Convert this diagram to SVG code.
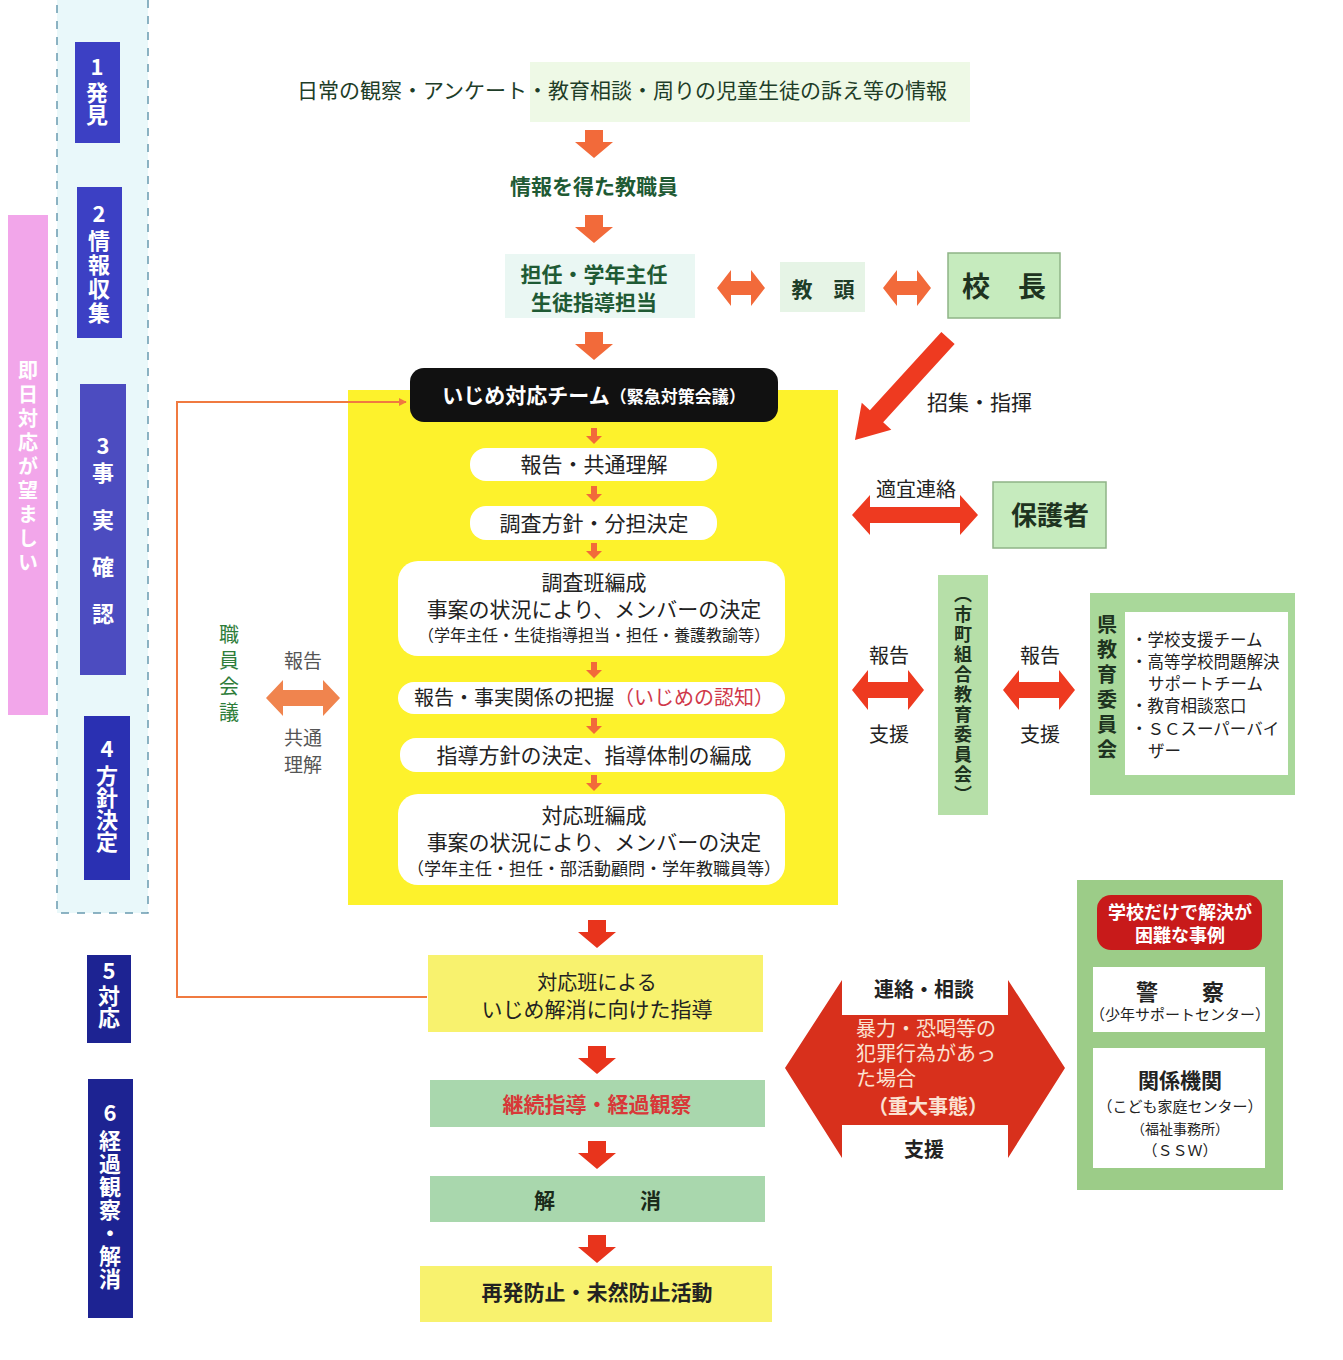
<svg xmlns="http://www.w3.org/2000/svg" width="1343" height="1360" viewBox="0 0 1343 1360">
<style>
text{font-family:"Noto Sans CJK JP","Noto Sans",sans-serif;}
.c{text-anchor:middle;}
.t{font-size:21px;fill:#222;}
.b{font-weight:bold;}
.g{fill:#1f5a34;}
.w{fill:#fff;}
.v{writing-mode:vertical-rl;}
.step{font-size:22px;font-weight:bold;fill:#fff;text-anchor:middle;}
.step.v{text-anchor:start;}
.wb{fill:#fff;}
.yl{fill:#f8f26e;}
.gr{fill:#a9d7ad;}
.lg{fill:#c6ebbe;stroke:#8fb487;stroke-width:1.5;}
</style>
<defs>
<path id="dn" d="M-9,0H9V12H19L0,28L-19,12H-9Z"/>
<path id="dnS" d="M-3,0H3V8H8L0,16L-8,8H-3Z"/>
<path id="dbl" d="M-24,0L-10,-18V-7H10V-18L24,0L10,18V7H-10V18Z"/>
<path id="dblL" d="M-63,0L-45,-20V-8H45V-20L63,0L45,20V8H-45V20Z"/>
<path id="dblM" d="M-36,0L-20,-20V-8H20V-20L36,0L20,20V8H-20V20Z"/>
<marker id="ah" viewBox="0 0 10 10" refX="9" refY="5" markerWidth="8" markerHeight="8" orient="auto" markerUnits="userSpaceOnUse"><path d="M0,0L10,5L0,10Z" fill="#f07a40"/></marker>
</defs>
<rect width="1343" height="1360" fill="#fff"/>

<!-- left stage column -->
<g id="stage-area">
<rect x="57" y="-5" width="91" height="918" fill="#e9f8fa" stroke="#6a9ab0" stroke-width="1.5" stroke-dasharray="8,8"/>
</g>
<g id="pink-note">
<rect x="8" y="215" width="40" height="500" fill="#f2a6ea"/>
<text class="v w b" x="28" y="360" style="font-size:20px;letter-spacing:4px">即日対応が望ましい</text>
</g>
<g id="step1">
<rect x="75" y="42" width="45" height="101" fill="#3c40c4"/>
<text class="step" x="97" y="75">1</text>
<text class="step v" x="97" y="82">発見</text>
</g>
<g id="step2">
<rect x="77" y="187" width="45" height="151" fill="#3c40c4"/>
<text class="step" x="99" y="222">2</text>
<text class="step v" x="99" y="230" style="letter-spacing:2px">情報収集</text>
</g>
<g id="step3">
<rect x="80" y="384" width="46" height="291" fill="#4c4cc0"/>
<text class="step" x="103" y="454">3</text>
<text class="step v" x="103" y="462" style="letter-spacing:25px">事実確認</text>
</g>
<g id="step4">
<rect x="84" y="716" width="46" height="164" fill="#2a30b2"/>
<text class="step" x="107" y="757">4</text>
<text class="step v" x="107" y="765">方針決定</text>
</g>
<g id="step5">
<rect x="87" y="955" width="44" height="88" fill="#1d2392"/>
<text class="step" x="109" y="979">5</text>
<text class="step v" x="109" y="985">対応</text>
</g>
<g id="step6">
<rect x="88" y="1079" width="45" height="239" fill="#1d2392"/>
<text class="step" x="110" y="1121">6</text>
<text class="step v" x="110" y="1130" style="letter-spacing:1px">経過観察・解消</text>
</g>

<!-- top flow -->
<g id="info">
<rect x="530" y="62" width="440" height="60" fill="#eef9e6"/>
<text class="t c" x="622" y="98" style="fill:#1e3d28">日常の観察・アンケート・教育相談・周りの児童生徒の訴え等の情報</text>
</g>
<g id="staff">
<text class="t c g b" x="594" y="194">情報を得た教職員</text>
</g>
<g id="homeroom">
<rect x="505" y="254" width="190" height="64" fill="#eaf7f3"/>
<text class="t c g b" x="594" y="282">担任・学年主任</text>
<text class="t c g b" x="594" y="310">生徒指導担当</text>
</g>
<g id="vice-principal">
<rect x="780" y="262" width="85" height="50" fill="#e6f4e6"/>
<text class="t c b" x="823" y="297" style="fill:#1e3d28">教　頭</text>
</g>
<g id="principal">
<rect x="948" y="253" width="112" height="65" class="lg"/>
<text class="c b" x="1004" y="297" style="font-size:28px;fill:#1e3320">校　長</text>
</g>
<text class="t" x="927" y="410" style="fill:#222">招集・指揮</text>

<!-- team -->
<g id="team">
<rect x="348" y="390" width="490" height="515" fill="#fdf22c"/>
<rect x="410" y="368" width="368" height="54" rx="14" fill="#111"/>
<text class="c b w" x="594" y="403" style="font-size:21px">いじめ対応チーム<tspan style="font-size:17px">（緊急対策会議）</tspan></text>
</g>
<g id="team-report">
<rect x="470" y="448" width="247" height="33" rx="16" class="wb"/>
<text class="t c" x="594" y="472">報告・共通理解</text>
</g>
<g id="team-policy">
<rect x="470" y="506" width="247" height="34" rx="16" class="wb"/>
<text class="t c" x="594" y="531">調査方針・分担決定</text>
</g>
<g id="team-survey">
<rect x="398" y="561" width="387" height="95" rx="20" class="wb"/>
<text class="t c" x="594" y="590">調査班編成</text>
<text class="t c" x="594" y="617">事案の状況により、メンバーの決定</text>
<text class="c" x="594" y="641" style="font-size:16px;fill:#222">（学年主任・生徒指導担当・担任・養護教諭等）</text>
</g>
<g id="team-facts">
<rect x="398" y="682" width="387" height="32" rx="16" class="wb"/>
<text class="c" x="594" y="705" style="font-size:20px;fill:#222">報告・事実関係の把握<tspan fill="#d0384a">（いじめの認知）</tspan></text>
</g>
<g id="team-guidance">
<rect x="400" y="738" width="385" height="34" rx="16" class="wb"/>
<text class="t c" x="594" y="763">指導方針の決定、指導体制の編成</text>
</g>
<g id="team-response">
<rect x="398" y="794" width="387" height="91" rx="20" class="wb"/>
<text class="t c" x="594" y="823">対応班編成</text>
<text class="t c" x="594" y="850">事案の状況により、メンバーの決定</text>
<text class="c" x="594" y="875" style="font-size:17px;fill:#222">（学年主任・担任・部活動顧問・学年教職員等）</text>
</g>

<!-- staff meeting -->
<g id="staff-meeting">
<text class="v" x="229" y="624" style="font-size:20px;fill:#2e7d3a;letter-spacing:6px">職員会議</text>
<text class="c" x="303" y="668" style="font-size:19px;fill:#555">報告</text>
<text class="c" x="303" y="745" style="font-size:19px;fill:#555">共通</text>
<text class="c" x="303" y="772" style="font-size:19px;fill:#555">理解</text>
</g>

<!-- right side -->
<text class="c" x="916" y="497" style="font-size:20px;fill:#222">適宜連絡</text>
<g id="guardian">
<rect x="993" y="482" width="113" height="66" class="lg"/>
<text class="c b" x="1050" y="525" style="font-size:26px;fill:#1e3320">保護者</text>
</g>
<text class="c" x="889" y="663" style="font-size:20px;fill:#222">報告</text>
<text class="c" x="889" y="742" style="font-size:20px;fill:#222">支援</text>
<g id="municipal-board">
<rect x="938" y="575" width="50" height="240" fill="#b6dfa8"/>
<text class="v b" x="963" y="585" style="font-size:18px;fill:#1e3320;letter-spacing:2px">（市町組合教育委員会）</text>
</g>
<text class="c" x="1040" y="663" style="font-size:20px;fill:#222">報告</text>
<text class="c" x="1040" y="742" style="font-size:20px;fill:#222">支援</text>
<g id="prefectural-board">
<rect x="1090" y="593" width="205" height="202" fill="#a9d89a"/>
<rect x="1125" y="612" width="163" height="163" fill="#fff"/>
<text class="v b" x="1107" y="614" style="font-size:20px;fill:#1e3320;letter-spacing:5px">県教育委員会</text>
<g style="font-size:16.5px;fill:#222">
<text x="1131" y="646">・学校支援チーム</text>
<text x="1131" y="668">・高等学校問題解決</text>
<text x="1148" y="690">サポートチーム</text>
<text x="1131" y="712">・教育相談窓口</text>
<text x="1131" y="735">・ＳＣスーパーバイ</text>
<text x="1148" y="757">ザー</text>
</g>
</g>

<!-- bottom flow -->
<g id="response">
<rect x="428" y="955" width="335" height="77" class="yl"/>
<text class="c" x="597" y="990" style="font-size:20px;fill:#222">対応班による</text>
<text class="t c" x="597" y="1017">いじめ解消に向けた指導</text>
</g>
<g id="followup">
<rect x="430" y="1080" width="335" height="47" class="gr"/>
<text class="t c b" x="597" y="1112" style="fill:#d83838">継続指導・経過観察</text>
</g>
<g id="resolved">
<rect x="430" y="1176" width="335" height="46" class="gr"/>
<text class="t b" x="534" y="1208" style="fill:#1a2a1a">解</text>
<text class="t b" x="640" y="1208" style="fill:#1a2a1a">消</text>
</g>
<g id="prevention">
<rect x="420" y="1266" width="352" height="56" class="yl"/>
<text class="t c b" x="597" y="1300">再発防止・未然防止活動</text>
</g>

<!-- serious case arrow -->
<g id="serious-case">
<path d="M785,1068L842,980V1015H1008V980L1065,1068L1008,1158V1125H842V1158Z" fill="#d8301c"/>
<text class="c b" x="924" y="997" style="font-size:20px;fill:#222">連絡・相談</text>
<g style="font-size:20px;fill:#fbe2d2">
<text x="856" y="1036">暴力・恐喝等の</text>
<text x="856" y="1061">犯罪行為があっ</text>
<text x="856" y="1086">た場合</text>
<text class="c b" x="928" y="1114">（重大事態）</text>
</g>
<text class="c b" x="924" y="1157" style="font-size:20px;fill:#222">支援</text>
</g>

<g id="external">
<rect x="1077" y="880" width="206" height="310" fill="#9ccc88"/>
<rect x="1097" y="895" width="165" height="55" rx="14" fill="#c81a1a"/>
<text class="c b w" x="1180" y="919" style="font-size:18px">学校だけで解決が</text>
<text class="c b w" x="1180" y="942" style="font-size:18px">困難な事例</text>
<rect x="1093" y="967" width="172" height="65" fill="#fff"/>
<text class="c b" x="1180" y="1000" style="font-size:22px;fill:#222">警　　察</text>
<text class="c" x="1180" y="1020" style="font-size:15px;fill:#222">（少年サポートセンター）</text>
<rect x="1093" y="1048" width="172" height="120" fill="#fff"/>
<text class="c b" x="1180" y="1088" style="font-size:21px;fill:#222">関係機関</text>
<text class="c" x="1180" y="1112" style="font-size:15px;fill:#222">（こども家庭センター）</text>
<text class="c" x="1180" y="1134" style="font-size:14px;fill:#222">（福祉事務所）</text>
<text class="c" x="1180" y="1156" style="font-size:15px;fill:#222">（ＳＳＷ）</text>
</g>

<!-- connectors -->
<g id="connectors" fill="#f26a3a">
<use href="#dn" x="594" y="130"/>
<use href="#dn" x="594" y="215"/>
<use href="#dn" x="594" y="332"/>
<use href="#dbl" x="741" y="288"/>
<use href="#dbl" x="907" y="288"/>
<use href="#dnS" x="594" y="428"/>
<use href="#dnS" x="594" y="486"/>
<use href="#dnS" x="594" y="543"/>
<use href="#dnS" x="594" y="662"/>
<use href="#dnS" x="594" y="718"/>
<use href="#dnS" x="594" y="775"/>
<path d="M-37,0L-20,-18V-8H20V-18L37,0L20,18V8H-20V18Z" transform="translate(303,698)" fill="#f0844e"/>
<polyline points="427,997 177,997 177,402 406,402" fill="none" stroke="#f07a40" stroke-width="2" marker-end="url(#ah)"/>
<g fill="#ee3a20">
<path d="M0,-9H106V-20L138,0L106,20V9H0Z" transform="translate(948,338) rotate(132.4)"/>
<use href="#dblL" x="915" y="515"/>
<use href="#dblM" x="888" y="690"/>
<use href="#dblM" x="1039" y="690"/>
</g>
<g fill="#e8341c">
<use href="#dn" x="597" y="920"/>
<use href="#dn" x="597" y="1046"/>
<use href="#dn" x="597" y="1141"/>
<use href="#dn" x="597" y="1235"/>
</g>
</g>
</svg>
